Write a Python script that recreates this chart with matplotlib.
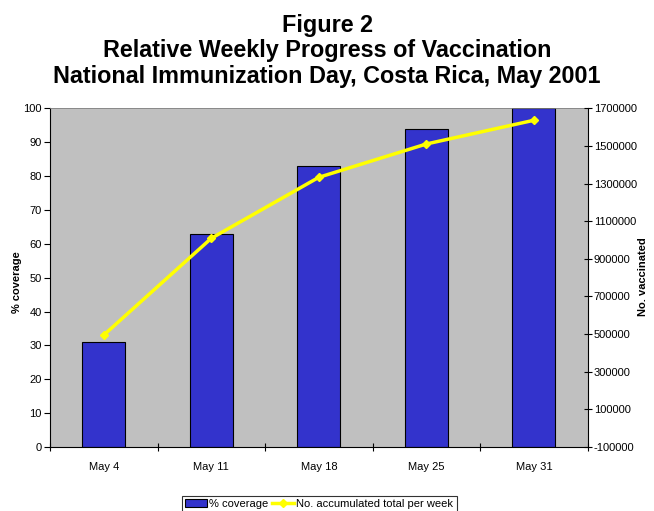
import matplotlib
matplotlib.use('Agg')
import matplotlib.pyplot as plt
from matplotlib.ticker import ScalarFormatter
import numpy as np

plt.rcParams['font.family'] = ['Liberation Sans', 'DejaVu Sans']
plt.rcParams['axes.unicode_minus'] = False

# data
weeks = ['May 4', 'May 11', 'May 18', 'May 25', 'May 31']
coverage = [31, 63, 83, 94, 100]
vaccinated = [495000, 1009000, 1333000, 1510000, 1636000]
title_lines = ['Figure 2', 'Relative Weekly Progress of Vaccination',
               'National Immunization Day, Costa Rica, May 2001']

fig = plt.figure(figsize=(6.54, 5.11), dpi=100)
ax = fig.add_axes([0.0765, 0.1252, 0.822, 0.663])
ax.set_facecolor('#C0C0C0')

x = np.arange(len(weeks))
bars = ax.bar(x, coverage, width=0.4, color='#3333CC', edgecolor='black',
              linewidth=0.8, label='% coverage', zorder=2)
ax.set_xlim(-0.5, len(weeks) - 0.5)
ax.set_ylim(0, 100)
ax.set_yticks(range(0, 101, 10))
ax.set_xticks(x)
ax.set_xticklabels(weeks)
ax.set_xticks(np.arange(-0.5, len(weeks), 1), minor=True)
ax.tick_params(axis='x', which='major', length=0, pad=11, labelsize=8)
ax.tick_params(axis='x', which='minor', length=6, direction='inout', width=0.8)
ax.tick_params(axis='y', length=4, direction='out', labelsize=8, width=0.8, pad=2)
ax.spines['top'].set_color('#808080')
ax.spines['top'].set_linewidth(0.6)
ax.spines['right'].set_visible(False)

ax2 = ax.twinx()
line, = ax2.plot(x, vaccinated, color='#FFFF00', linewidth=2.5, marker='D',
                 markersize=4, label='No. accumulated total per week', zorder=3)
ax2.set_ylim(-100000, 1700000)
ax2.set_yticks(range(-100000, 1700001, 200000))
fmt = ScalarFormatter(useOffset=False)
fmt.set_scientific(False)
ax2.yaxis.set_major_formatter(fmt)
ax2.tick_params(axis='y', length=6, direction='inout', labelsize=8, width=0.8, pad=1.5)
ax2.spines['top'].set_visible(False)
ax2.spines['left'].set_visible(False)
ax2.spines['bottom'].set_visible(False)

# axis titles placed directly on the figure
fig.text(17.5 / 654, 1 - 282 / 511, '% coverage', rotation=90, ha='center',
         va='center', fontsize=8, fontweight='bold')
fig.text(643 / 654, 1 - 277 / 511, 'No. vaccinated', rotation=90, ha='center',
         va='center', fontsize=8, fontweight='bold')

# title, one line per baseline
for txt, yb in zip(title_lines, [0.938, 0.889, 0.838]):
    fig.text(0.5, yb, txt, ha='center', va='baseline', fontsize=16.8,
             fontweight='bold')

leg = fig.legend([bars, line], ['% coverage', 'No. accumulated total per week'],
                 loc='lower center', bbox_to_anchor=(0.488, -0.014), ncol=2,
                 fontsize=8, frameon=True, fancybox=False, edgecolor='black',
                 handlelength=2.0, handletextpad=0.2, columnspacing=0.3,
                 borderpad=0.3)
leg.get_frame().set_linewidth(0.8)

plt.savefig('out.png', dpi=100)
